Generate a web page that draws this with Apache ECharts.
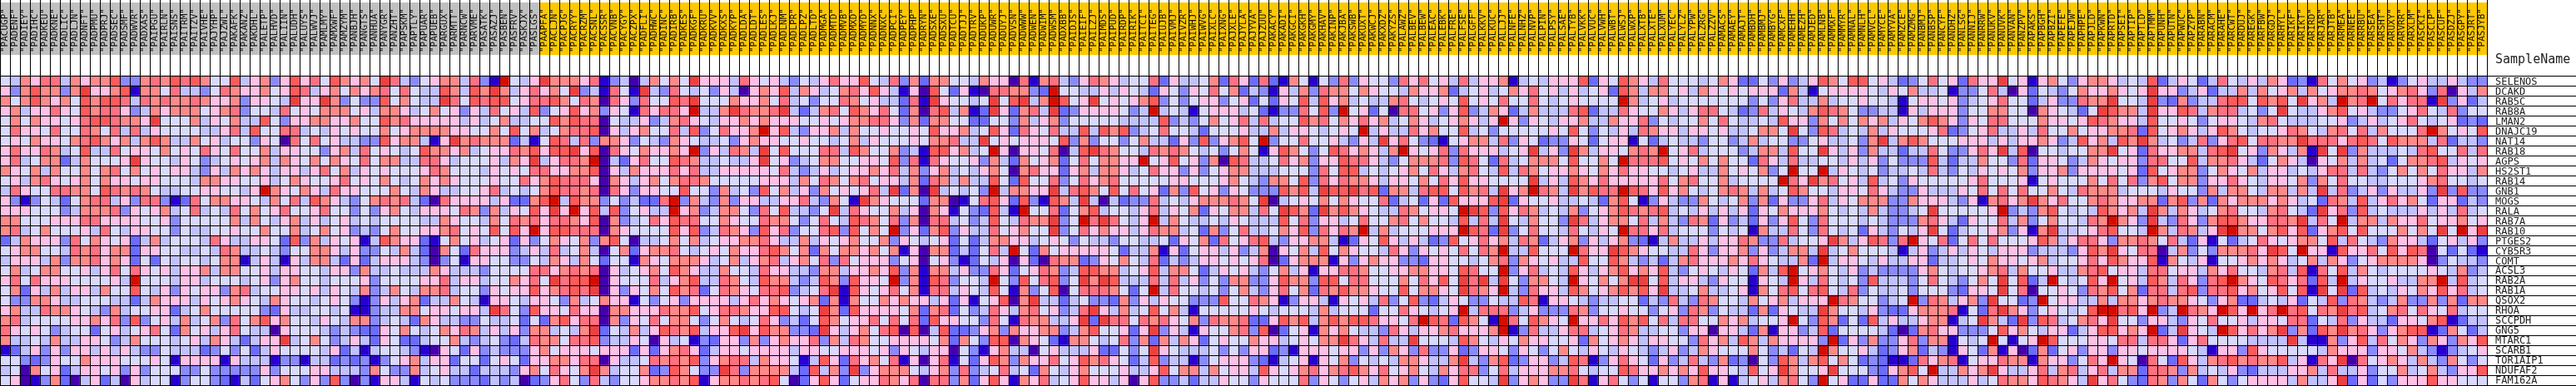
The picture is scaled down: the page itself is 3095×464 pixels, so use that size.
<!DOCTYPE html>
<html><head><meta charset="utf-8">
<style>html,body{margin:0;padding:0;background:#fff}#c{width:3095px;height:464px}</style>
<script src="https://cdn.jsdelivr.net/npm/echarts@6/dist/echarts.min.js"></script>
</head><body><div id="c"></div>
<script>
const genes = ["SELENOS","DCAKD","RAB5C","RAB8A","LMAN2","DNAJC19","NAT14","RAB18","AGPS","HS2ST1","RAB14","GNB1","MOGS","RALA","RAB7A","RAB10","PTGES2","CYB5R3","COMT","ACSL3","RAB2A","RAB1A","QSOX2","RHOA","SCCPDH","GNG5","MTARC1","SCARB1","TOR1AIP1","NDUFAF2","FAM162A"];
const controlSamples = ["PACUGP","PADENF","PADIEY","PADIHC","PADKEU","PADKNE","PADLIC","PADLJN","PADNFT","PADPMU","PADPRJ","PADSEC","PADSMF","PADWVR","PADXAS","PAIPGU","PAIRLN","PAISNS","PAITRM","PAITZV","PAIVHE","PAJYHP","PAJZWL","PAKAFK","PAKANZ","PAKDHL","PALETP","PALHVD","PALIIN","PALUDH","PALUYS","PALWVJ","PAMLMY","PAMXWF","PAMZYM","PANBJH","PANGTS","PANHUA","PANYGR","PANZHT","PAPSKM","PAPTLY","PAPUAR","PAPUEB","PARGUX","PARMTT","PARNCW","PARVME","PASATK","PASAZJ","PASBEN","PASFRV","PASKJX","PASLGS"];
const caseSamples = ["PAAPFA","PACLJN","PACPJG","PACRYY","PACRZM","PACSNL","PACSSR","PACVNB","PACYGY","PACZPX","PADFLI","PADHWC","PADINC","PADIRB","PADKES","PADKGF","PADKRU","PADKVV","PADKXS","PADKYP","PADLDA","PADLDT","PADLES","PADLKJ","PADLNM","PADLPR","PADLPZ","PADLTD","PADMGA","PADMTD","PADMVB","PADMXD","PADMYD","PADNNX","PADNXC","PADPCI","PADPEY","PADPHP","PADRYN","PADSXE","PADSXU","PADTCU","PADTJJ","PADTRV","PADUKP","PADUWR","PADUYJ","PADVSN","PADWWW","PADWEN","PADWIM","PADWSM","PADXBB","PAIDJS","PAIEIF","PAILZJ","PAIMDS","PAIPUD","PAIRDP","PAIRIK","PAITCI","PAITEG","PAIUJB","PAIVMJ","PAIVZR","PAIWHJ","PAIWVG","PAIXLC","PAIXNG","PAJXLE","PAJYLA","PAJYVA","PAJZUU","PAKACY","PAKADI","PAKGCI","PAKGKH","PAKGMY","PAKHAV","PAKINP","PAKJBA","PAKSWB","PAKUXT","PAKWCJ","PAKXDZ","PAKYZS","PALAWZ","PALBEV","PALBEW","PALEAC","PALEBK","PALFRE","PALFSE","PALGFF","PALKKV","PALKUC","PALLJJ","PALNFE","PALNHZ","PALNVP","PALPIN","PALPSY","PALSAE","PALTYB","PALVKK","PALVUC","PALVWH","PALWBT","PALWSJ","PALWXP","PALXTB","PALXTE","PALXUM","PALYEC","PALYLZ","PALYPW","PALZRG","PALZZV","PAMACS","PAMAEY","PAMAJT","PAMBDH","PAMBMJ","PAMBYG","PAMCXF","PAMEHH","PAMEZH","PAMJED","PAMLNB","PAMMXF","PAMMYR","PAMNAL","PAMNLH","PAMVCL","PAMYCE","PAMYVA","PAMZCE","PAMZMG","PANBMJ","PANBSP","PANCYF","PANDHZ","PANLSG","PANNIJ","PANRRW","PANUKV","PANUVK","PANVAN","PANZPV","PAPAKS","PAPBGH","PAPBZI","PAPEFE","PAPEJW","PAPHPE","PAPJLD","PAPKWN","PAPRTD","PAPSEI","PAPTIP","PAPTLD","PAPTMM","PAPUNH","PAPUTN","PAPWUC","PAPZYP","PARABN","PARACM","PARAHE","PARCWT","PARDUJ","PAREGK","PARFBW","PARGDJ","PARHYL","PARIKF","PARIKT","PARIRD","PARJAR","PARJTB","PARMEA","PARNEE","PARRBU","PARSEA","PARSHT","PARUXY","PARVRR","PARXLM","PASCKI","PASCLP","PASCUF","PASDZJ","PASGPY","PASJRT","PASJYB"];
const levelColors = ["#4500AD","#2700D1","#6B6BFF","#8A8AFF","#C1C1FF","#D9D9FF","#FFC0E5","#FF8989","#FF7080","#FF5A5A","#EF4040","#D60C00"];
// each string: one gene (row), one base-12 colour level per sample column
const levelsA = ["5476884767 7933787989 7559467369 6","63797737a6 6791775844 3587667569 8","7579767597 9984878778 766736654a 6","6746686597 8863476777 5678355485 6","5757665689 98776a5557 4657449536 6","5866585587 5848465555 4468495588 4","5657665789 7674797447 5645536508 5","6866874594 4856657565 8658557466 5","6845772475 556a655465 3456567476 5","7657475575 7857565664 3647676466 4","5647865675 7665665554 7766556457 6","4865588775 9878754455 665546b765 7","6313542578 8463883128 5776654758 4","6665553477 7836567458 4548575685 5","7755566688 6666556355 5557475467 4","7845755564 8546655354 4556557557 4","2476663857 6562474555 4864466529 3","5677554878 6772665544 5487445435 5","4666473778 6762525455 4577146416 4","5745775564 6858656466 7477556466 5","6858666555 564b555466 4555456367 5","5726474664 7559546365 6637845566 5","5337764455 5442476664 6567654765 5","6744877654 3745566245 7555553264 4","7845555667 6839356474 5738579675 5","8656534552 5645685275 6468544065 5","7445474466 5347555456 47642466a4 5","1246363664 6464335444 2353524655 5","5532365576 6655565166 6616444133 1","4507562466 5636355533 5333336355 5","5601372046 2406455135 5321425675 3"];
const levelsB = ["8597675a84 356774831b 546a777681 3","4675767858 54497497a7 468675a341 8","6a73533957 544a859899 5688975870 8","5777564776 4575636485 6493569673 6","7766755978 6666646457 4455979880 5","5465655756 7777665575 9574578890 6","8564433967 7416a78777 2415984837 7","5367485654 5977674566 879699a690 8","7576585774 4886455564 76a46887b0 4","6857465655 5687555465 6588667790 6","5568565754 5767655565 5867988860 7","6486655575 4764455684 5457988780 8","9764357878 4208666646 2279b49773 5","6855353675 4666587374 6596a6b694 9","6456454555 5447655475 8786887690 7","5756343575 5667856595 96b6998880 7","7465614976 6215756456 2635765737 9","7764633547 4207528666 3464845740 5","7742624666 4303516655 3354764752 5","5466374454 4476444355 5588678780 6","5455563555 5668466455 7685a899b0 6","6465473475 4778455365 66967898a0 6","4565313646 7244754166 5466537457 6","5545113447 75665664a8 5396658660 7","4654773454 2764433544 5252796880 7","5434322657 5457687464 63774547a2 5","7534642652 2455743453 2487758893 4","5462414554 3106526343 3367566656 6","4423231356 7466255256 5266776880 6","6644437533 7456442444 36758657a7 4","6393031664 1545333243 4023685384 3"];
const levelsC = ["4047575a66 6486564354 6866954837 2","51a4385453 6406769476 4578696416 0","6385598a55 5766758453 5587564428 1","5186886b44 7a8778a424 7859768527 0","4463478654 6676766655 6567788637 2","4675584935 8667b69436 6747556556 5","6354376544 5367665565 5457465556 5","6576676b36 4874a59555 8849755734 1","2685598744 5446a56345 7755665938 1","4766686844 6666658434 6456676847 3","6467578875 5555666475 8757856647 2","6366559553 7453957463 7565684a27 0","34228b3743 7366446684 3751a76555 2","35644b6734 7753859443 5a48655746 0","3458698855 7655877535 8549875837 0","6555596934 8763968355 8939575b36 2","5044575745 6677864474 6567557365 4","7267785456 5766897572 7577675716 0","5176577764 5746784675 8385666356 0","4567597644 7554866443 7746676937 1","5558467944 8754977434 9739665b37 1","3657597825 8765889345 8a19656857 1","6153563666 6468676567 2717557676 6","7666877956 8876699545 a729666657 2","3658577535 7545863425 9756685858 2","4746987946 69a6977332 a646758909 0","4650645132 6637367668 3748755666 6","6262678624 6656666466 5566656365 4","4458787936 7884766514 9628675816 0","5572397533 a837777429 473a367775 4","5567787916 7787895026 9625668768 0"];
const levelsD = ["7755476608 1784368764 5582644572 8","9526108877 32b5544646 5426536585 7","a65545a59a 47b956a565 6793535663 5","894712a627 84a2366665 34b4541566 6","7755225537 4673555554 4449343575 6","9667459628 6584494979 3458554255 5","77844a5656 6659373553 5744263936 7","996745b606 658049a875 5487875453 5","8655637427 5672585776 6b56956370 9","6745467507 8662674776 4586636356 7","8747449529 5583586785 5555665556 7","a45453b477 66a4897595 8562739563 6","7701589629 31974a4042 3384546777 8","761532941b 5582579455 4684657265 7","8845349548 77a35b8a85 46b4754454 6","7936448567 55a3586766 4687745273 5","5625247766 4565354435 5445265728 5","77242584b5 2756666652 4471625664 6","5631254606 2087723657 5482434665 6","7746338625 6873499774 5694775246 5","983554b539 58935a7a94 4484846353 7","8846549517 3590588875 25b4855453 5","4626156907 a442453327 3646553339 5","7825348647 856348a647 4595741555 5","9665538518 77446a2a88 5878657387 7","4922367376 6773479556 26a3641655 7","5727539907 6521775458 3727476256 5","6605316744 0564446225 35a6544453 5","6815269737 6685697865 2493441356 6","6738345845 2754675556 4469577475 6","8837269617 6845696646 0693342446 5"];
const levelsE = ["6282175153 8365538685 6484667145 4","2431647387 7576554766 7245645768 5","6252659496 7454478545 6595658558 5","4521338593 b562508856 3693476247 4","8484559785 7686745764 567646b636 5","6447466545 65b4644867 5594535555 5","95b3558556 4364a68532 1567748365 2","7516975359 867647b656 838666456a 4","8445867366 9886435777 8398528457 7","7444555385 9945456758 6478549487 5","5437759386 8776466575 869665555a 4","53339794a9 9a89277489 959784a67b 8","75a0456575 7655824526 296669a265 5","7485a972a7 9765448756 65ba939687 4","5444958366 4585578575 549484a547 5","8445769386 87b4745556 66b982a358 5","6894366774 1265964642 3956867487 2","3470657495 7655486365 658587b449 5","5680267771 6367663326 6554578376 5","6435746166 8875566776 659855b368 4","7336977399 5885557586 95a8a4a537 7","7436857287 9776559577 65a876b438 6","5876136641 6564835932 4653354498 1","5654555474 5552558654 56b4888346 3","8226979479 79986658b9 829751b859 7","8390256176 7544386466 786667b138 4","5766456577 a864844a55 5497546576 6","3662316665 6636376383 3623665365 3","6321456165 7354547764 47a4379236 6","6496567867 8976856754 7688358466 6","5365558365 3564767363 269554a367 6"];
const levelsF = ["6669265976 4855545762 2536346975 9","6464562974 7756476565 6662741566 6","4565555b74 5645555555 3536844745 5","4489244865 5764688542 3846547987 5","4667447668 3545575854 4549663757 5","6595354648 7664665644 5775a53984 5","3365256615 2454435534 7455335644 5","63a7466578 7b56845553 4774955a64 6","7595575b88 8956575755 2864844554 6","6676576866 5545644756 5735b55b46 5","6497686666 6857855745 555b86a785 6","74a7988b98 6967545787 4745975546 6","6445427951 3643375457 3726336846 5","5473567987 8945464646 2657666754 5","53a8467758 4743872634 2636953855 5","5485465b88 6845553545 1744853854 5","4673646732 1474464668 73384556a7 4","55b866a976 5544863667 3634774a45 7","6449559743 4247866676 8654472b46 6","5496467967 6943565465 2749b56754 6","54b65757aa 5946643655 1654b64854 5","6497567979 6a44574456 1758958954 8","6654344552 4384387554 75674666b8 7","3387355655 3563873544 2726544a75 5","65b6686979 5848855767 4556b53972 5","4688456874 4553660664 2716634925 5","5562756764 6655386749 74766663b2 6","5754654654 3463476555 7534254b75 5","3498136865 2634843723 0539747957 5","7785455986 6767696654 956a7556a5 5","33a8168535 1553781614 5647853b56 2"];
const levelsG = ["9564235856 2866a56167 5367764549 2","6546574451 3358406254 357667656a 6","6554156656 3456855246 33877a554a 3","3344164666 3557755076 5425a9774a 6","7674657976 3658855576 6569876649 5","4746555682 3568446485 5756677829 5","37a4797555 6664646676 34967497a7 4","3744244853 3686a49055 45577a5628 6","4635333942 4475538266 5347656638 8","4534454843 5465657366 7366665629 5","4945365555 5685556156 5557585837 9","5864336444 6585858557 5487774555 4","7773376664 3617867a76 8557876677 2","4743345a55 5556b34379 545497674a 7","4543337864 2655847357 55487b763a 4","2643546a52 455673617a 445689554b 7","69838b6582 5858555697 4688637787 5","5554146346 4654666344 43697a6588 0","5464466244 5657665674 5568697669 1","3433336754 5567847556 4478956648 8","3944435854 3575a5924b 54596b5649 7","3544535553 2665a58055 6538795728 8","55345b3874 673a5523b5 6644747767 8","4632267778 1528a76356 5459bb896b 3","2946446771 45a742a398 45786a5536 6","5542027866 3335967546 624699676b 2","3733683771 545b5156b9 5556658848 8","6423672431 6527160272 5636636656 6","2321128678 1566877176 63586b6508 5","5326795b44 767a644684 7846847728 8","2622757644 4645877698 764a685328 7"];
const levelsH = ["4652485464 7623185756 3413564464 33","6346244747 5674756778 7567863806 47","2734489959 795a674b78 b586881a36 24","6984788453 5a54467956 4335685483 55","5653566547 8544455634 6456854562 32","6764697545 5687547858 475558b756 59","5348368958 877a888689 8597774824 43","677489a563 76471a5a37 4445489558 48","5594778642 5764065747 4525778946 56","6773576574 6645468848 4357575866 47","5773668654 6657375855 4455567855 45","6553747754 77474a4834 6364463a39 33","7937276777 6764528749 4686752662 43","4764578554 78542a6839 4544464648 45","3863799766 887a485b47 7476685667 56","48746ab775 7969267959 5557575a5b 6a","8426152458 6567759485 4376642564 63","4735377786 a95b661966 8596980525 21","7546155676 7645747635 6777760354 43","5664768554 7849185947 5455556547 34","486389b765 9868294b46 5564477b49 45","4893889675 69591a5a29 4546576968 45","7765367224 5462549387 4347337372 77","4b876b96b6 8b89587a89 4578586584 55","4365855646 6588254836 4426657912 44","4a654b9686 7a37297a78 6367991275 24","6268555544 44a4117369 4857637637 69","6654166396 5555547666 3665743134 56","2964789787 7946186a08 5676474375 35","7374546324 4466748446 3557457436 69","3752753566 6647446a26 2536669665 55"];

const samples = controlSamples.concat(caseSamples);
const blocks = [levelsA, levelsB, levelsC, levelsD, levelsE, levelsF, levelsG, levelsH];
const rows = genes.map((g, r) => blocks.map(b => b[r].replace(/ /g, "")).join(""));
const cells = [];
rows.forEach((s, r) => { for (let c = 0; c < samples.length; c++) cells.push([c, r, parseInt(s[c], 12)]); });

const CELL = 12, HEAD = 91, GRID_W = CELL * samples.length, GRID_H = CELL * genes.length;
const mono = '"DejaVu Sans Mono", monospace';
const gridLines = { show: true, interval: 0, showMinLine: true, showMaxLine: true, lineStyle: { color: "#000", width: 1 } };
const bareAxis = { axisLine: { show: false }, axisTick: { show: false }, axisLabel: { show: false } };
const chart = echarts.init(document.getElementById("c"), null, { renderer: "canvas" });
chart.setOption({
  animation: false,
  backgroundColor: "#fff",
  title: { text: "SampleName", left: 2998, top: 65, padding: 0,
    textStyle: { fontFamily: mono, fontSize: 15, fontWeight: "normal", color: "#222" } },
  grid: [
    { left: 0, top: HEAD, width: GRID_W, height: GRID_H },
    { left: 0, top: 0, width: GRID_W, height: HEAD },
    { left: GRID_W, top: HEAD, width: 3095 - GRID_W, height: GRID_H },
    { left: GRID_W, top: HEAD + 2, width: 3095 - GRID_W, height: GRID_H }
  ],
  xAxis: [
    Object.assign({ gridIndex: 0, type: "category", data: samples, z: 5, splitLine: gridLines }, bareAxis),
    Object.assign({ gridIndex: 1, type: "category", data: samples, z: 5, splitLine: gridLines }, bareAxis),
    { gridIndex: 2, type: "value", show: false, min: 0, max: 1 },
    { gridIndex: 3, type: "value", show: false, min: 0, max: 1 }
  ],
  yAxis: [
    Object.assign({ gridIndex: 0, type: "category", inverse: true, data: genes, z: 5, splitLine: gridLines }, bareAxis),
    { gridIndex: 1, type: "value", min: 0, max: HEAD, show: false },
    Object.assign({ gridIndex: 2, type: "category", inverse: true, data: genes, z: 5, splitLine: gridLines }, bareAxis),
    { gridIndex: 3, type: "category", inverse: true, data: genes, z: 4, splitLine: { show: false }, axisLine: { show: false }, axisTick: { show: false },
      axisLabel: { inside: true, interval: 0, margin: 10, fontFamily: mono, fontSize: 12, color: "#222" } }
  ],
  visualMap: { show: false, type: "piecewise", seriesIndex: 0, dimension: 2,
    pieces: levelColors.map((color, i) => ({ value: i, color })) },
  series: [
    { type: "heatmap", xAxisIndex: 0, yAxisIndex: 0, data: cells, progressive: 0, silent: true, itemStyle: { borderWidth: 0 } },
    { type: "bar", xAxisIndex: 1, yAxisIndex: 1, stack: "head", barWidth: "100%", silent: true,
      itemStyle: { color: "rgba(0,0,0,0)" }, data: samples.map(() => 25) },
    { type: "bar", xAxisIndex: 1, yAxisIndex: 1, stack: "head", barWidth: "100%", silent: true,
      data: samples.map((s, i) => ({ value: 63, itemStyle: { color: i < controlSamples.length ? "#C0C0C0" : "#FFC800" } })),
      label: { show: true, position: "insideBottom", distance: 2, rotate: 90, align: "left", verticalAlign: "middle", offset: [1, 0],
        fontFamily: mono, fontSize: 11, color: "#111", formatter: p => '"' + p.name + '"' } }
  ]
});
</script></body></html>
